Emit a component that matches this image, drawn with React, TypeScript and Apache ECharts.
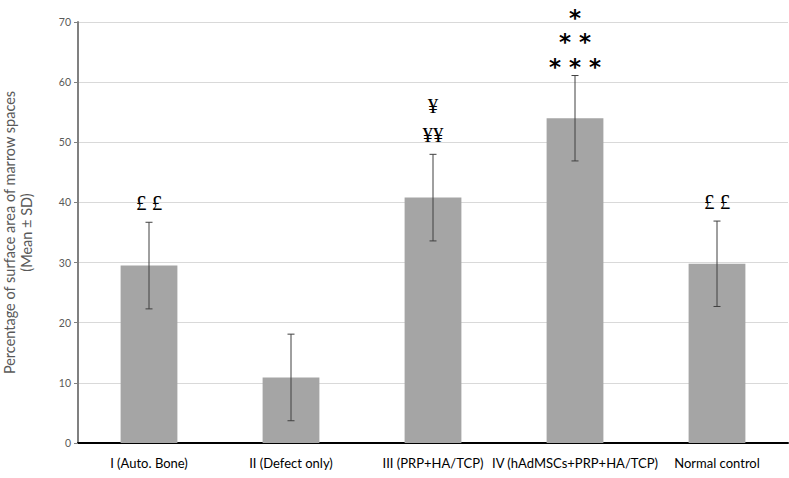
import React, { useEffect, useRef } from "react";
import * as echarts from "echarts";

const categories = [
  "I (Auto. Bone)",
  "II (Defect only)",
  "III (PRP+HA/TCP)",
  "IV (hAdMSCs+PRP+HA/TCP)",
  "Normal control",
];
const means = [29.5, 10.9, 40.8, 54.0, 29.8];
const sds = [7.2, 7.2, 7.2, 7.1, 7.1];
// annotation lines, listed top to bottom
const annotations: string[][] = [["£ £"], [], ["¥", "¥¥"], ["*", "* *", "* * *"], ["£ £"]];
const yTicks = { min: 0, max: 70, interval: 10 };

export default function App() {
  const ref = useRef<HTMLDivElement>(null);
  useEffect(() => {
    if (!ref.current) return;
    const chart = echarts.init(ref.current, null, { renderer: "svg" });
    const errData = means.map((m, i) => [i, m, sds[i]]);
    chart.setOption({
      animation: false,
      backgroundColor: "#ffffff",
      grid: { left: 78, right: 1, top: 22, bottom: 35, containLabel: false, outerBoundsMode: "none" },
      xAxis: {
        type: "category",
        data: categories,
        axisLine: { show: true, lineStyle: { color: "#000000", width: 2 } },
        axisTick: { show: false },
        axisLabel: { color: "#000000", fontSize: 13, fontFamily: "Lato", margin: 13, interval: 0 },
        splitLine: { show: false },
      },
      yAxis: {
        type: "value",
        min: yTicks.min,
        max: yTicks.max,
        interval: yTicks.interval,
        name: "Percentage of surface area of marrow spaces\n(Mean ± SD)",
        nameLocation: "middle",
        nameGap: 43,
        nameTextStyle: { color: "#595959", fontSize: 14.5, fontFamily: "Lato", lineHeight: 17 },
        axisLine: { show: true, lineStyle: { color: "#808080", width: 2 } },
        axisTick: { show: true, length: 4, lineStyle: { color: "#808080" } },
        axisLabel: { color: "#595959", fontSize: 10.5, fontFamily: "Lato", margin: 7 },
        splitLine: { show: true, lineStyle: { color: "#d9d9d9", width: 1 } },
      },
      series: [
        {
          type: "bar",
          data: means,
          barWidth: "40%",
          itemStyle: { color: "#a5a5a5" },
        },
        {
          type: "custom",
          data: errData,
          z: 10,
          renderItem: (params: any, api: any) => {
            const i = api.value(0);
            const m = api.value(1);
            const sd = api.value(2);
            const top = api.coord([i, m + sd]);
            const bot = api.coord([i, m - sd]);
            const cap = 3.5;
            const style = { stroke: "#404040", lineWidth: 1 };
            const children: any[] = [
              { type: "line", shape: { x1: top[0], y1: top[1], x2: bot[0], y2: bot[1] }, style },
              { type: "line", shape: { x1: top[0] - cap, y1: top[1], x2: top[0] + cap, y2: top[1] }, style },
              { type: "line", shape: { x1: bot[0] - cap, y1: bot[1], x2: bot[0] + cap, y2: bot[1] }, style },
            ];
            const lines = annotations[params.dataIndex] || [];
            const n = lines.length;
            lines.forEach((t, j) => {
              const k = n - 1 - j;
              const isStar = t.indexOf("*") >= 0;
              const offset = isStar ? 15 : 19;
              const step = isStar ? 24.5 : 29;
              children.push({
                type: "text",
                x: top[0],
                y: top[1] - offset - k * step + (isStar ? 6 : 0),
                style: {
                  text: t,
                  align: "center",
                  verticalAlign: "middle",
                  fill: "#000000",
                  fontSize: isStar ? 23 : 21,
                  fontWeight: isStar ? "bold" : "normal",
                  fontFamily: isStar ? "DejaVu Sans" : "Liberation Serif",
                },
              });
            });
            return { type: "group", children };
          },
        },
      ],
    });
    return () => chart.dispose();
  }, []);
  return (
    <div
      ref={ref}
      style={{ position: "fixed", left: 0, top: 0, width: 789, height: 478, background: "#fff" }}
    />
  );
}
